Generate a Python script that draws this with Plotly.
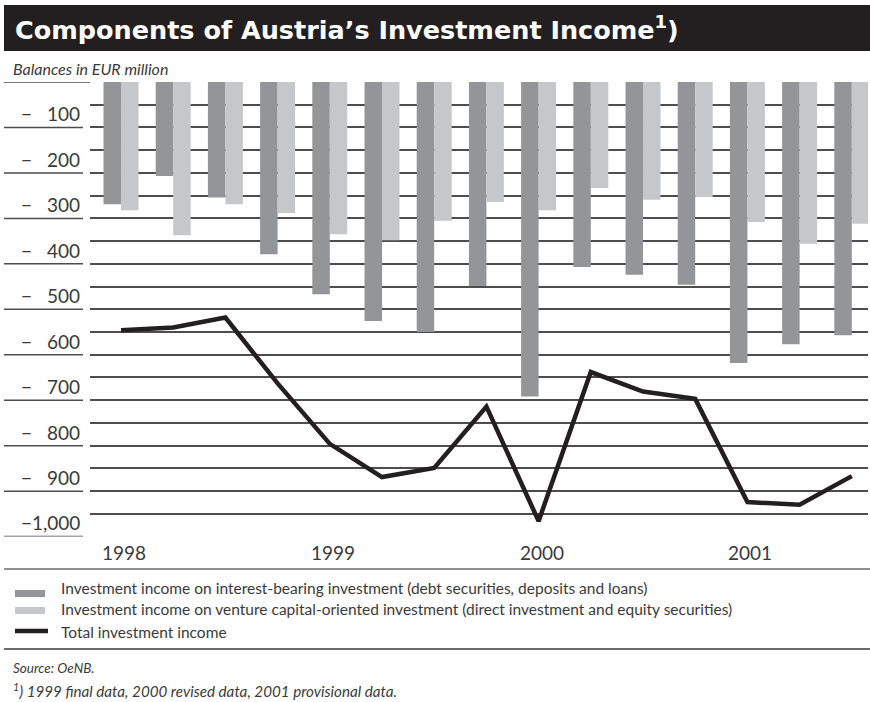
import plotly.graph_objects as go

# Quarterly periods 1998 Q1 – 2001 Q3
periods = ["1998 Q1", "1998 Q2", "1998 Q3", "1998 Q4",
           "1999 Q1", "1999 Q2", "1999 Q3", "1999 Q4",
           "2000 Q1", "2000 Q2", "2000 Q3", "2000 Q4",
           "2001 Q1", "2001 Q2", "2001 Q3"]

# Balances in EUR million
interest_bearing = [-269, -207, -254, -379, -467, -526, -550, -449,
                    -692, -407, -424, -446, -618, -577, -557]
venture_capital = [-282, -337, -269, -288, -335, -348, -305, -264,
                   -282, -233, -259, -253, -308, -356, -312]
total_income = [-546, -540, -518, -663, -796, -869, -849, -714,
                -966, -638, -681, -697, -924, -930, -867]

year_labels = ["1998", "1999", "2000", "2001"]
year_positions = [0, 4, 8, 12]
tick_values = [-100, -200, -300, -400, -500, -600, -700, -800, -900, -1000]
tick_texts = ["100", "200", "300", "400", "500", "600", "700", "800", "900", "1,000"]

legend_names = [
    "Investment income on interest-bearing investment (debt securities, deposits and loans)",
    "Investment income on venture capital-oriented investment (direct investment and equity securities)",
    "Total investment income",
]

DARK = "#939598"
LIGHT = "#c6c7c9"
INK = "#231f20"
TEXT = "#3a3a3a"
GRID = "#4d4d4d"
FONT = "Lato"

W, H = 870, 702


def px(x):
    return x / W


def py(y):
    return 1 - y / H


x_idx = list(range(len(periods)))

fig = go.Figure()
fig.add_trace(go.Bar(x=x_idx, y=interest_bearing, name=legend_names[0],
                     marker=dict(color=DARK, line=dict(width=0)),
                     hovertext=periods))
fig.add_trace(go.Bar(x=x_idx, y=venture_capital, name=legend_names[1],
                     marker=dict(color=LIGHT, line=dict(width=0)),
                     hovertext=periods))
fig.add_trace(go.Scatter(x=x_idx, y=total_income, name=legend_names[2],
                         mode="lines", line=dict(color=INK, width=4.5),
                         hovertext=periods))

shapes = []
annotations = []

# title bar
shapes.append(dict(type="rect", xref="paper", yref="paper",
                   x0=px(4), x1=px(870), y0=py(51), y1=py(5),
                   fillcolor=INK, line=dict(width=0), layer="below"))
annotations.append(dict(xref="paper", yref="paper", x=px(13), y=py(28),
                        xanchor="left", yanchor="middle", showarrow=False,
                        text="Components of Austria’s Investment Income<sup>1</sup>)",
                        font=dict(family="DejaVu Sans", size=25.5, color="white",
                                  weight="bold")))
annotations.append(dict(xref="paper", yref="paper", x=px(11), y=py(69),
                        xanchor="left", yanchor="middle", showarrow=False,
                        text="<i>Balances in EUR million</i>",
                        font=dict(family=FONT, size=16, color=TEXT)))

# gridline extensions under the axis labels
shapes.append(dict(type="line", xref="paper", yref="y", x0=px(4), x1=px(90),
                   y0=0, y1=0, line=dict(color=GRID, width=1.5), layer="below"))
for v, t in zip(tick_values, tick_texts):
    shapes.append(dict(type="line", xref="paper", yref="y", x0=px(4), x1=px(83),
                       y0=v, y1=v, line=dict(color=GRID, width=1.5), layer="below"))
    annotations.append(dict(xref="paper", yref="y", x=px(26.5), y=v + 30,
                            xanchor="center", yanchor="middle", showarrow=False,
                            text="−", font=dict(family=FONT, size=19, color=TEXT)))
    annotations.append(dict(xref="paper", yref="y", x=px(82), y=v + 30,
                            xanchor="right", yanchor="middle", showarrow=False,
                            text=t, font=dict(family=FONT, size=19, color=TEXT)))

# year labels
for pos, lab in zip(year_positions, year_labels):
    annotations.append(dict(xref="x", yref="paper", x=pos, y=py(552), xshift=3,
                            xanchor="center", yanchor="middle", showarrow=False,
                            text=lab, font=dict(family=FONT, size=19, color=TEXT)))

# legend block
shapes.append(dict(type="line", xref="paper", yref="paper", x0=px(4), x1=px(870),
                   y0=py(569), y1=py(569), line=dict(color="#6d6d6d", width=1.5)))
shapes.append(dict(type="line", xref="paper", yref="paper", x0=px(4), x1=px(870),
                   y0=py(649), y1=py(649), line=dict(color="#3a3a3a", width=1.5)))
shapes.append(dict(type="rect", xref="paper", yref="paper", x0=px(15), x1=px(45),
                   y0=py(597), y1=py(590), fillcolor=DARK, line=dict(width=0)))
shapes.append(dict(type="rect", xref="paper", yref="paper", x0=px(15), x1=px(45),
                   y0=py(614), y1=py(607), fillcolor=LIGHT, line=dict(width=0)))
shapes.append(dict(type="line", xref="paper", yref="paper", x0=px(15), x1=px(48),
                   y0=py(631), y1=py(631), line=dict(color=INK, width=4.5)))
for name, yc in zip(legend_names, [588, 609, 631.5]):
    annotations.append(dict(xref="paper", yref="paper", x=px(59), y=py(yc),
                            xanchor="left", yanchor="middle", showarrow=False,
                            text=name, font=dict(family=FONT, size=15.5, color=TEXT)))

# source and footnote
annotations.append(dict(xref="paper", yref="paper", x=px(11), y=py(668),
                        xanchor="left", yanchor="middle", showarrow=False,
                        text="<i>Source: OeNB.</i>",
                        font=dict(family=FONT, size=13.5, color=TEXT)))
annotations.append(dict(xref="paper", yref="paper", x=px(11), y=py(690),
                        xanchor="left", yanchor="middle", showarrow=False,
                        text="<i><sup>1</sup>) 1999 final data, 2000 revised data, 2001 provisional data.</i>",
                        font=dict(family=FONT, size=15.2, color=TEXT)))

fig.update_layout(
    width=W, height=H,
    margin=dict(l=0, r=0, t=0, b=0),
    paper_bgcolor="white", plot_bgcolor="white",
    barmode="group", bargap=0.33, bargroupgap=0,
    showlegend=False,
    shapes=shapes, annotations=annotations,
    xaxis=dict(domain=[px(90), px(868)], range=[-0.594, 14.31],
               showticklabels=False, showgrid=False, zeroline=False,
               showline=False, ticks=""),
    yaxis=dict(domain=[py(536.6), py(82)], range=[-1000, 0],
               dtick=50, tick0=0, showgrid=True, gridcolor=GRID, gridwidth=1.5,
               showticklabels=False, zeroline=False, showline=False, ticks=""),
)

fig.write_html("out.html")
